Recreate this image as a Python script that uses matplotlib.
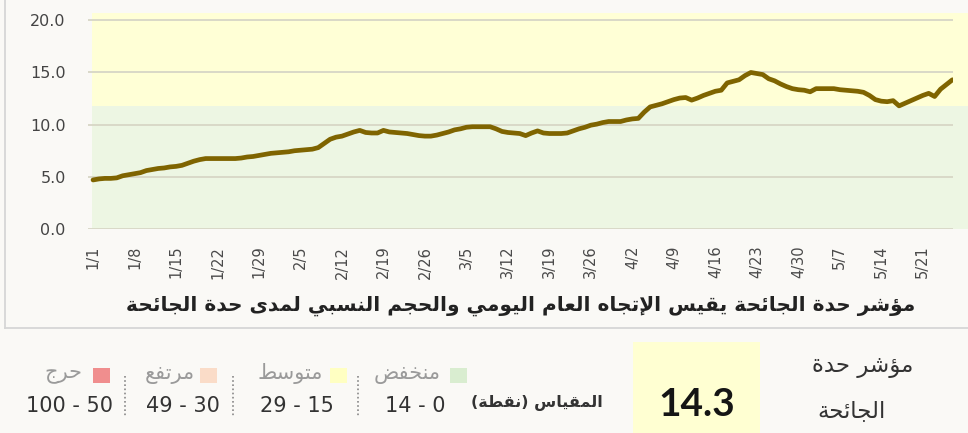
import numpy as np
import matplotlib.pyplot as plt
from matplotlib.patches import Rectangle
from matplotlib.lines import Line2D

# --- data -------------------------------------------------------------
# daily index values, 1/1 .. 5/26
severity = [4.7, 4.8, 4.85, 4.85, 4.9, 5.1, 5.2, 5.3, 5.4, 5.6,
            5.7, 5.8, 5.85, 5.95, 6.0, 6.1, 6.3, 6.5, 6.65, 6.75,
            6.75, 6.75, 6.75, 6.75, 6.75, 6.8, 6.9, 6.95, 7.05, 7.15,
            7.25, 7.3, 7.35, 7.4, 7.5, 7.55, 7.6, 7.65, 7.8, 8.2,
            8.6, 8.8, 8.9, 9.1, 9.3, 9.45, 9.25, 9.2, 9.2, 9.45,
            9.3, 9.25, 9.2, 9.15, 9.05, 8.95, 8.9, 8.9, 9.0, 9.15,
            9.3, 9.5, 9.6, 9.75, 9.8, 9.8, 9.8, 9.8, 9.6, 9.35,
            9.25, 9.2, 9.15, 8.95, 9.2, 9.4, 9.2, 9.15, 9.15, 9.15,
            9.2, 9.4, 9.6, 9.75, 9.95, 10.05, 10.2, 10.3, 10.3, 10.3,
            10.45, 10.55, 10.6, 11.2, 11.7, 11.85, 12.0, 12.2, 12.4, 12.55,
            12.6, 12.35, 12.55, 12.8, 13.0, 13.2, 13.3, 14.0, 14.15, 14.3,
            14.7, 15.0, 14.9, 14.8, 14.4, 14.2, 13.9, 13.65, 13.45, 13.35,
            13.3, 13.15, 13.45, 13.45, 13.45, 13.45, 13.35, 13.3, 13.25, 13.2,
            13.1, 12.8, 12.4, 12.25, 12.2, 12.3, 11.8, 12.05, 12.3, 12.55,
            12.8, 13.0, 12.7, 13.4, 13.85, 14.3]
dates = np.arange('2021-01-01', '2021-05-27', dtype='datetime64[D]')
tick_dates = dates[::7]
tick_labels = [f"{d.astype(object).month}/{d.astype(object).day}" for d in tick_dates]

band_low = 11.8      # green / yellow boundary in background
band_top = 20.7
yticks = [0, 5, 10, 15, 20]

current_value = 14.3
level_names = ['منخفض', 'متوسط', 'مرتفع', 'حرج']
level_ranges = ['14 - 0', '29 - 15', '49 - 30', '100 - 50']
level_colors = ['#d9edd0', '#ffffc2', '#fadcc8', '#f08e8e']

x_title = 'مؤشر حدة الجائحة يقيس الإتجاه العام اليومي والحجم النسبي لمدى حدة الجائحة'
scale_label = 'المقياس (نقطة)'
box_title = ['مؤشر حدة', 'الجائحة']

# --- minimal arabic shaping (matplotlib has no RTL layout) -------------
FORMS = {
    'ا': (0xFE8D, 0xFE8E), 'إ': (0xFE87, 0xFE88), 'أ': (0xFE83, 0xFE84),
    'آ': (0xFE81, 0xFE82), 'ؤ': (0xFE85, 0xFE86),
    'ئ': (0xFE89, 0xFE8A, 0xFE8B, 0xFE8C), 'ب': (0xFE8F, 0xFE90, 0xFE91, 0xFE92),
    'ة': (0xFE93, 0xFE94), 'ت': (0xFE95, 0xFE96, 0xFE97, 0xFE98),
    'ج': (0xFE9D, 0xFE9E, 0xFE9F, 0xFEA0), 'ح': (0xFEA1, 0xFEA2, 0xFEA3, 0xFEA4),
    'خ': (0xFEA5, 0xFEA6, 0xFEA7, 0xFEA8), 'د': (0xFEA9, 0xFEAA),
    'ر': (0xFEAD, 0xFEAE), 'س': (0xFEB1, 0xFEB2, 0xFEB3, 0xFEB4),
    'ش': (0xFEB5, 0xFEB6, 0xFEB7, 0xFEB8), 'ض': (0xFEBD, 0xFEBE, 0xFEBF, 0xFEC0),
    'ط': (0xFEC1, 0xFEC2, 0xFEC3, 0xFEC4), 'ع': (0xFEC9, 0xFECA, 0xFECB, 0xFECC),
    'ف': (0xFED1, 0xFED2, 0xFED3, 0xFED4), 'ق': (0xFED5, 0xFED6, 0xFED7, 0xFED8),
    'ل': (0xFEDD, 0xFEDE, 0xFEDF, 0xFEE0), 'م': (0xFEE1, 0xFEE2, 0xFEE3, 0xFEE4),
    'ن': (0xFEE5, 0xFEE6, 0xFEE7, 0xFEE8), 'ه': (0xFEE9, 0xFEEA, 0xFEEB, 0xFEEC),
    'و': (0xFEED, 0xFEEE), 'ى': (0xFEEF, 0xFEF0),
    'ي': (0xFEF1, 0xFEF2, 0xFEF3, 0xFEF4),
}
LAM_ALEF = {'ا': (0xFEFB, 0xFEFC), 'إ': (0xFEF9, 0xFEFA),
            'أ': (0xFEF7, 0xFEF8), 'آ': (0xFEF5, 0xFEF6)}


def ar(text):
    out = []
    i = 0
    while i < len(text):
        c = text[i]
        if c not in FORMS:
            out.append(c)
            i += 1
            continue
        prev = text[i - 1] if i > 0 else ''
        jp = prev in FORMS and len(FORMS[prev]) == 4
        if c == 'ل' and i + 1 < len(text) and text[i + 1] in LAM_ALEF:
            f = LAM_ALEF[text[i + 1]]
            out.append(chr(f[1] if jp else f[0]))
            i += 2
            continue
        nxt = text[i + 1] if i + 1 < len(text) else ''
        jn = len(FORMS[c]) == 4 and nxt in FORMS
        f = FORMS[c]
        if jp and jn:
            g = f[3]
        elif jp:
            g = f[1]
        elif jn:
            g = f[2]
        else:
            g = f[0]
        out.append(chr(g))
        i += 1
    return ''.join(reversed(out)).translate(str.maketrans('()', ')('))


# --- figure -----------------------------------------------------------
W, H = 968, 433
bg = '#faf9f6'
fig = plt.figure(figsize=(W / 100, H / 100), dpi=100, facecolor=bg)


def fx(x):
    return x / W


def fy(y):
    return 1 - y / H


AR = ['DejaVu Sans']

# panel frame (left + bottom edges visible)
fig.add_artist(Line2D([fx(5), fx(5)], [fy(0), fy(328)], color='#d6d6d6', lw=1.3))
fig.add_artist(Line2D([fx(5), fx(968)], [fy(328), fy(328)], color='#d6d6d6', lw=1.3))

ax = fig.add_axes([fx(88), fy(229), fx(953) - fx(88), fy(13) - fy(229)])
ax.set_facecolor('none')
x = np.arange(len(severity))
ax.set_xlim(-0.85, len(severity) - 0.9)
ax.set_ylim(0, band_top)

# background bands run out to the right edge of the figure
ax.add_patch(Rectangle((-0.15, 0), 160, band_low, facecolor='#edf6e3',
                       edgecolor='none', clip_on=False, zorder=0))
ax.add_patch(Rectangle((-0.15, band_low), 160, band_top - band_low,
                       facecolor='#ffffd6', edgecolor='none', clip_on=False, zorder=0))

for v in yticks:
    ax.axhline(v, color='#d7d6c6', lw=1.3, zorder=1)

ax.plot(x, severity, color='#7f6400', lw=3.4, solid_capstyle='round',
        solid_joinstyle='round', zorder=3)

ax.set_yticks(yticks)
ax.set_yticklabels([f"{v:.1f}" for v in yticks], fontsize=11.5, color='#444444')
ax.tick_params(axis='y', length=0, pad=16)
for s in ax.spines.values():
    s.set_visible(False)

# rotated date labels under each weekly tick
ax.set_xticks(x[::7])
ax.set_xticklabels(tick_labels, rotation=90, ha='center', va='top',
                   fontsize=10.5, color='#4a4a4a')
ax.tick_params(axis='x', length=0, pad=12)

fig.text(fx(521), fy(306), ar(x_title), ha='center', va='center',
         fontsize=14.5, fontweight='bold', family=AR, color='#222222')

# --- bottom strip -----------------------------------------------------
fig.add_artist(Rectangle((fx(633), fy(433)), fx(760) - fx(633), fy(342) - fy(433),
                         transform=fig.transFigure, facecolor='#ffffd2', edgecolor='none'))
fig.text(fx(697), fy(405), f"{current_value:.1f}", ha='center', va='center',
         fontsize=28, fontweight='bold', family=['Lato', 'DejaVu Sans'], color='#151515')

fig.text(fx(863), fy(366), ar(box_title[0]), ha='center', va='center',
         fontsize=16.5, family=AR, color='#333333')
fig.text(fx(852), fy(411), ar(box_title[1]), ha='center', va='center',
         fontsize=16.5, family=AR, color='#333333')

fig.text(fx(603), fy(403), ar(scale_label), ha='right', va='center',
         fontsize=11.5, fontweight='bold', family=AR, color='#333333')

sq_x = [450, 330, 200, 93]
name_right = [441, 323, 195, 82]
range_center = [415, 297, 183, 70]
for i in range(4):
    fig.add_artist(Rectangle((fx(sq_x[i]), fy(383)), 17 / W, 15 / H,
                             transform=fig.transFigure,
                             facecolor=level_colors[i], edgecolor='none'))
    fig.text(fx(name_right[i]), fy(374), ar(level_names[i]), ha='right', va='center',
             fontsize=15, family=AR, color='#9a9a9a')
    fig.text(fx(range_center[i]), fy(406), level_ranges[i], ha='center', va='center',
             fontsize=15, color='#333333')

for sx in [358, 233, 125]:
    fig.add_artist(Line2D([fx(sx), fx(sx)], [fy(376), fy(416)], color='#888888',
                          lw=1.2, ls=(0, (1, 1.5))))

fig.savefig('out.png', dpi=100, facecolor=bg)
